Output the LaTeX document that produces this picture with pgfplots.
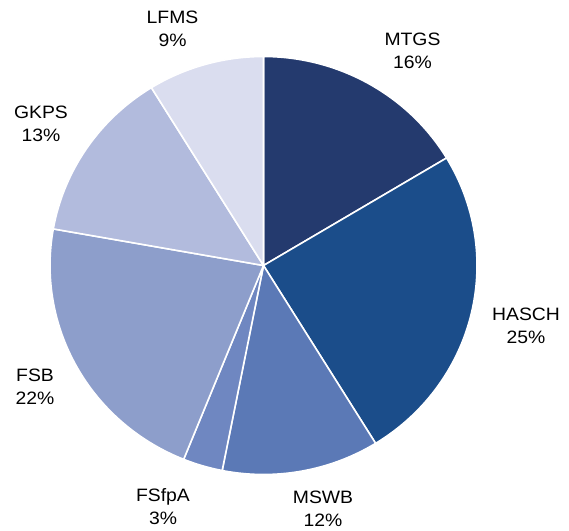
\documentclass[border=0pt]{standalone}
\usepackage{pgfplots}
\pgfplotsset{compat=1.18}
\usepackage{fontspec}
\setmainfont{Liberation Sans}[FakeStretch=1.08]
\definecolor{cMTGS}{HTML}{243A6E}
\definecolor{cHASCH}{HTML}{1B4D8A}
\definecolor{cMSWB}{HTML}{5B79B6}
\definecolor{cFSfpA}{HTML}{6F87C1}
\definecolor{cFSB}{HTML}{8D9ECB}
\definecolor{cGKPS}{HTML}{B2BBDD}
\definecolor{cLFMS}{HTML}{DADDEF}
\begin{document}
\begin{tikzpicture}
\begin{axis}[
  width=569bp, height=531bp, scale only axis,
  xmin=0, xmax=569, ymin=0, ymax=531,
  hide axis, clip=false,
]
\addplot[draw=none] coordinates {(0,0) (569,531)};
\def\cx{263.5}\def\cy{265.5}\def\rx{213.5}\def\ry{209}
\pgfmathsetmacro{\cum}{0}
\foreach \v/\c in {16.4/cMTGS, 24.8/cHASCH, 11.9/cMSWB, 3.0/cFSfpA, 21.7/cFSB, 13.4/cGKPS, 8.8/cLFMS}{
  \pgfmathsetmacro{\a}{90-3.6*\cum}
  \pgfmathsetmacro{\b}{90-3.6*(\cum+\v)}
  \edef\temp{\noexpand\addplot[fill=\c, draw=white, line width=1.6pt, line join=round, domain=\b:\a, samples=80, variable=\noexpand\t]
    ({\cx+\rx*cos(\noexpand\t)}, {\cy+\ry*sin(\noexpand\t)}) -- (axis cs:\cx,\cy) -- cycle;}
  \temp
  \pgfmathsetmacro{\newcum}{\cum+\v}
  \global\let\cum\newcum
}
\begin{scope}[every node/.style={align=center, font=\fontsize{18}{23}\selectfont, text=black}]
\node at (axis cs:412.5,480.5) {MTGS\\16\%};
\node at (axis cs:526,205.5) {HASCH\\25\%};
\node at (axis cs:323,22.5) {MSWB\\12\%};
\node at (axis cs:163,24.5) {FSfpA\\3\%};
\node at (axis cs:35,144.5) {FSB\\22\%};
\node at (axis cs:41,407) {GKPS\\13\%};
\node at (axis cs:172.5,502.5) {LFMS\\9\%};
\end{scope}
\end{axis}
\end{tikzpicture}
\end{document}
